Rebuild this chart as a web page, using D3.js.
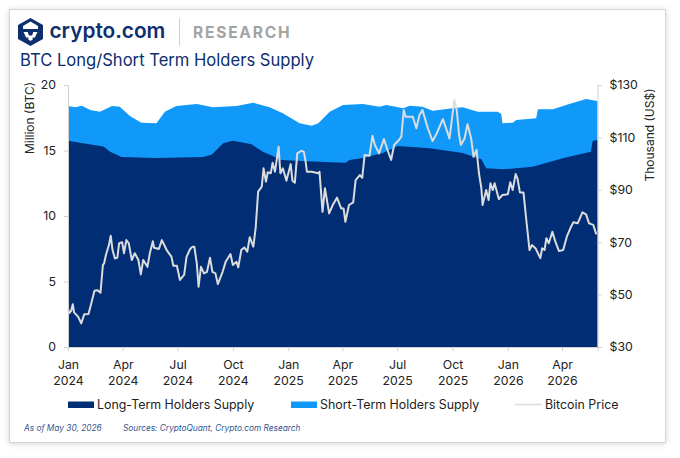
<!DOCTYPE html>
<html>
<head>
<meta charset="utf-8">
<script src="https://cdn.jsdelivr.net/npm/d3@7"></script>
<style>
	html, body { margin: 0; padding: 0; background: #fff; }
	svg { display: block; }
	text { font-family: Inter, "Noto Sans", sans-serif; }
</style>
</head>
<body>
<div id="chart"></div>
<script>

// Days are counted from 1 Jan 2024
var startDate = new Date(2024, 0, 1);
var endDate = new Date(2026, 4, 30);

var longTermDays = [0, 20, 59, 70, 89, 147, 225, 239, 258, 274, 305, 324, 355, 435, 461, 468, 490, 523, 548, 601, 656, 687, 695, 722, 772, 822, 869, 872, 880];
var longTermSupply = [15.75, 15.6, 15.3, 14.9, 14.5, 14.43, 14.5, 14.7, 15.55, 15.75, 15.47, 14.9, 14.27, 14.1, 14.07, 14.27, 14.43, 14.8, 15.34, 15.17, 14.8, 14.33, 13.64, 13.56, 13.76, 14.4, 14.9, 15.75, 15.8];

// Top of the stack: long term + short term
var totalDays = [0, 12, 23, 37, 53, 73, 86, 103, 122, 147, 161, 180, 214, 241, 280, 308, 335, 357, 385, 405, 416, 435, 457, 490, 518, 529, 557, 568, 589, 606, 639, 656, 681, 714, 720, 722, 739, 745, 778, 781, 806, 833, 861, 880];
var totalSupply = [18.4, 18.3, 18.42, 18.09, 17.96, 18.4, 18.34, 17.63, 17.12, 17.08, 17.96, 18.4, 18.55, 18.3, 18.4, 18.65, 18.3, 17.84, 17.08, 16.89, 17.08, 17.96, 18.47, 18.55, 18.34, 18.47, 18.22, 18.42, 18.34, 18.04, 18.22, 18.3, 17.96, 17.96, 17.79, 17.08, 17.12, 17.33, 17.46, 18.14, 18.14, 18.55, 18.93, 18.78];

var priceDays = [0, 2, 5, 8, 10, 17, 22, 27, 34, 38, 44, 49, 54, 58, 60, 63, 68, 71, 74, 78, 82, 85, 90, 93, 97, 101, 106, 111, 117, 121, 125, 132, 136, 141, 143, 151, 156, 164, 172, 175, 181, 186, 193, 197, 203, 207, 210, 214, 217, 221, 226, 231, 236, 240, 245, 249, 257, 262, 270, 274, 280, 283, 288, 293, 298, 302, 308, 312, 316, 322, 325, 329, 332, 337, 340, 344, 350, 353, 357, 363, 370, 373, 377, 381, 388, 392, 395, 397, 405, 416, 418, 423, 427, 434, 440, 447, 454, 458, 461, 467, 474, 478, 485, 489, 493, 501, 506, 510, 517, 525, 531, 537, 542, 550, 554, 558, 561, 568, 573, 579, 584, 589, 598, 606, 613, 623, 634, 642, 646, 650, 653, 659, 664, 670, 674, 679, 683, 687, 689, 695, 699, 702, 706, 709, 716, 722, 731, 735, 739, 744, 747, 751, 757, 762, 767, 771, 777, 785, 788, 792, 795, 799, 805, 810, 816, 823, 829, 836, 840, 847, 855, 861, 866, 873, 878];
var priceValues = [44.8, 42.9, 43.7, 46.3, 43.2, 41.5, 39.0, 42.5, 42.6, 46.0, 51.5, 51.7, 50.7, 61.3, 61.9, 65.1, 68.9, 72.5, 67.0, 63.8, 64.1, 69.6, 70.0, 65.8, 70.8, 69.6, 63.2, 65.8, 63.2, 57.7, 63.2, 60.6, 65.8, 70.4, 67.9, 67.4, 70.8, 67.0, 64.4, 61.0, 61.0, 55.6, 57.5, 64.4, 67.4, 68.3, 68.3, 62.0, 53.0, 60.6, 58.1, 58.7, 64.1, 58.7, 58.1, 54.0, 58.7, 62.5, 65.5, 61.3, 62.5, 60.4, 67.0, 68.0, 66.4, 71.9, 68.3, 75.7, 89.3, 91.2, 98.2, 93.1, 96.7, 96.3, 100.3, 96.9, 106.4, 96.3, 98.2, 93.5, 99.8, 93.5, 92.7, 103.9, 104.9, 104.5, 100.7, 96.9, 96.9, 96.3, 96.9, 81.6, 90.6, 81.0, 84.2, 87.0, 82.9, 82.9, 77.8, 84.2, 85.2, 93.7, 95.6, 94.6, 103.3, 103.0, 110.6, 107.1, 103.9, 109.4, 105.2, 101.4, 107.1, 109.0, 110.3, 120.5, 117.9, 117.9, 117.9, 113.5, 118.5, 120.5, 113.5, 108.6, 111.6, 117.0, 109.6, 124.3, 120.5, 110.9, 107.1, 109.6, 115.0, 109.6, 102.6, 105.2, 96.3, 90.6, 84.2, 89.9, 86.1, 92.5, 89.9, 92.5, 86.5, 88.0, 88.3, 92.9, 89.9, 96.0, 94.4, 89.0, 89.0, 77.8, 67.0, 68.9, 67.7, 63.9, 67.7, 67.0, 71.5, 69.6, 74.0, 70.2, 66.6, 67.0, 72.1, 75.9, 77.6, 77.2, 81.4, 80.6, 77.2, 76.6, 73.0];

var xTickDates = ['2024-01', '2024-04', '2024-07', '2024-10', '2025-01', '2025-04', '2025-07', '2025-10', '2026-01', '2026-04'];
var monthNames = ['Jan', 'Apr', 'Jul', 'Oct'];
var leftTicks = [0, 5, 10, 15, 20];
var rightTicks = [30, 50, 70, 90, 110, 130];

var titleText = 'BTC Long/Short Term Holders Supply';
var longTermName = 'Long-Term Holders Supply';
var shortTermName = 'Short-Term Holders Supply';
var priceName = 'Bitcoin Price';

var navy = '#002d74';
var blue = '#1199fa';
var priceColor = '#dcdcdc';
var tickColor = '#d0d0d0';
var textColor = '#222';

var width = 680;
var height = 458;

var svg = d3.select('#chart')
	.append('svg')
	.attr('width', width)
	.attr('height', height);

// drop shadow of the card
var shadow = svg.append('defs')
	.append('filter')
	.attr('id', 'card-shadow')
	.attr('x', '-5%')
	.attr('y', '-5%')
	.attr('width', '110%')
	.attr('height', '110%');

shadow.append('feDropShadow')
	.attr('dx', 0)
	.attr('dy', 1)
	.attr('stdDeviation', 3)
	.attr('flood-color', '#000')
	.attr('flood-opacity', 0.16);

svg.append('rect')
	.attr('x', 9.5)
	.attr('y', 9.5)
	.attr('width', 656)
	.attr('height', 433)
	.attr('fill', '#fff')
	.attr('stroke', '#d4d4d4')
	.attr('filter', 'url(#card-shadow)');

// Header
var logo = svg.append('g').attr('transform', 'translate(30.5,32)');

logo.append('path')
	.attr('d', 'M0,-14 L12.5,-7 L12.5,7 L0,14 L-12.5,7 L-12.5,-7 Z')
	.attr('fill', '#0d2f6e');

logo.append('path')
	.attr('d', 'M-7.5,-6 L0,-10.5 L7.5,-6 L7.5,-3 L-7.5,-3 Z')
	.attr('fill', '#fff');

logo.append('path')
	.attr('d', 'M-7,0 L-2.8,0 L-1.6,3.5 L1.6,3.5 L2.8,0 L7,0 L4.4,5.5 L2.2,5.5 L2.2,7.5 L0,9 L-2.2,7.5 L-2.2,5.5 L-4.4,5.5 Z')
	.attr('fill', '#fff');

svg.append('text')
	.attr('x', 49.5)
	.attr('y', 37.5)
	.attr('font-size', '20.8px')
	.attr('font-weight', 600)
	.attr('fill', '#0d2f6e')
	.text('crypto.com');

svg.append('line')
	.attr('x1', 179.5)
	.attr('x2', 179.5)
	.attr('y1', 18)
	.attr('y2', 46)
	.attr('stroke', '#d0d0d0');

svg.append('text')
	.attr('x', 193)
	.attr('y', 38)
	.attr('font-size', '15.5px')
	.attr('font-weight', 700)
	.attr('letter-spacing', '1.8px')
	.attr('fill', '#a3a3a3')
	.text('RESEARCH');

svg.append('text')
	.attr('x', 20)
	.attr('y', 66)
	.attr('font-size', '16.6px')
	.attr('font-weight', 400)
	.attr('fill', '#0d2f6e')
	.text(titleText);

// Scales
var x = d3.scaleTime()
	.domain([startDate, endDate])
	.range([68, 597.5]);

var yLeft = d3.scaleLinear()
	.domain([0, 20])
	.range([347, 85]);

var yRight = d3.scaleLinear()
	.domain([30, 130])
	.range([347, 85]);

function dayToDate(day) {
	return d3.timeDay.offset(startDate, day);
}

// Areas
var totalArea = d3.area()
	.x(function (d, i) { return x(dayToDate(totalDays[i])); })
	.y0(yLeft(0))
	.y1(function (d) { return yLeft(d); });

svg.append('path')
	.datum(totalSupply)
	.attr('d', totalArea)
	.attr('fill', blue);

var longTermArea = d3.area()
	.x(function (d, i) { return x(dayToDate(longTermDays[i])); })
	.y0(yLeft(0))
	.y1(function (d) { return yLeft(d); });

svg.append('path')
	.datum(longTermSupply)
	.attr('d', longTermArea)
	.attr('fill', navy);

// Price line
var priceLine = d3.line()
	.x(function (d, i) { return x(dayToDate(priceDays[i])); })
	.y(function (d) { return yRight(d); });

svg.append('path')
	.datum(priceValues)
	.attr('d', priceLine)
	.attr('fill', 'none')
	.attr('stroke', priceColor)
	.attr('stroke-width', 2)
	.attr('stroke-linejoin', 'round');

// Axes
function styleAxis(g) {
	g.selectAll('.domain').attr('stroke', tickColor);
	g.selectAll('.tick line').attr('stroke', tickColor);
	g.selectAll('.tick text')
		.attr('fill', textColor)
		.attr('font-size', '12.3px')
		.attr('font-family', 'Inter, sans-serif');
}

var leftAxis = svg.append('g')
	.attr('transform', 'translate(68,0)')
	.call(d3.axisLeft(yLeft).tickValues(leftTicks).tickSize(4).tickPadding(8))
	.call(styleAxis);

var rightAxis = svg.append('g')
	.attr('transform', 'translate(597.5,0)')
	.call(d3.axisRight(yRight).tickValues(rightTicks).tickSize(4).tickPadding(8).tickFormat(function (d) { return '$' + d; }))
	.call(styleAxis);

var tickDates = xTickDates.map(function (d) { return d3.timeParse('%Y-%m')(d); });

var bottomAxis = svg.append('g')
	.attr('transform', 'translate(0,347)')
	.call(d3.axisBottom(x).tickValues(tickDates).tickSize(4).tickFormat(''))
	.call(styleAxis);

// two line month / year labels
bottomAxis.selectAll('.tick text')
	.each(function (d) {
		var label = d3.select(this);
		label.append('tspan')
			.attr('x', 0)
			.attr('dy', '15px')
			.text(monthNames[d.getMonth() / 3]);
		label.append('tspan')
			.attr('x', 0)
			.attr('dy', '15.5px')
			.text(d.getFullYear());
	});

svg.append('text')
	.attr('transform', 'translate(34,118) rotate(-90)')
	.attr('text-anchor', 'middle')
	.attr('font-size', '12px')
	.attr('fill', textColor)
	.text('Million (BTC)');

svg.append('text')
	.attr('transform', 'translate(654,135) rotate(-90)')
	.attr('text-anchor', 'middle')
	.attr('font-size', '12px')
	.attr('fill', textColor)
	.text('Thousand (US$)');

// Legend
var legend = svg.append('g');

legend.append('rect')
	.attr('x', 68)
	.attr('y', 401.5)
	.attr('width', 26)
	.attr('height', 6.5)
	.attr('fill', navy);

legend.append('text')
	.attr('x', 97)
	.attr('y', 408.5)
	.attr('font-size', '12.4px')
	.attr('fill', textColor)
	.text(longTermName);

legend.append('rect')
	.attr('x', 291)
	.attr('y', 401.5)
	.attr('width', 26)
	.attr('height', 6.5)
	.attr('fill', blue);

legend.append('text')
	.attr('x', 320)
	.attr('y', 408.5)
	.attr('font-size', '12.4px')
	.attr('fill', textColor)
	.text(shortTermName);

legend.append('line')
	.attr('x1', 515)
	.attr('x2', 542)
	.attr('y1', 404.5)
	.attr('y2', 404.5)
	.attr('stroke', priceColor)
	.attr('stroke-width', 1.5);

legend.append('text')
	.attr('x', 545)
	.attr('y', 408.5)
	.attr('font-size', '12.4px')
	.attr('fill', textColor)
	.text(priceName);

// Footer
svg.append('text')
	.attr('x', 24)
	.attr('y', 431)
	.attr('font-size', '8.3px')
	.attr('font-style', 'italic')
	.attr('fill', '#34568f')
	.text('As of May 30, 2026');

svg.append('text')
	.attr('x', 123)
	.attr('y', 431)
	.attr('font-size', '8.3px')
	.attr('font-style', 'italic')
	.attr('fill', '#34568f')
	.text('Sources: CryptoQuant, Crypto.com Research');

</script>
</body>
</html>
